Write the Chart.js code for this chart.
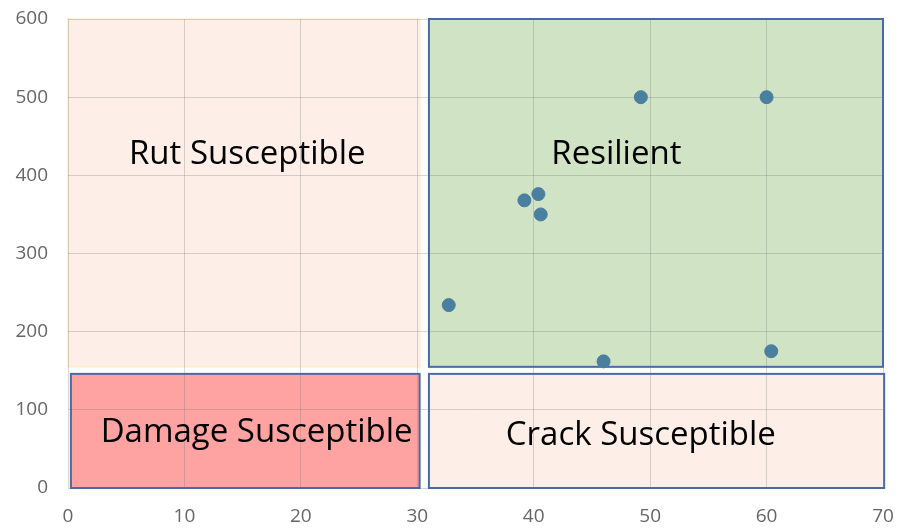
<!DOCTYPE html>
<html>
<head>
<meta charset="utf-8">
<script src="https://cdn.jsdelivr.net/npm/chart.js@4.4.0/dist/chart.umd.min.js"></script>
<style>
  body { margin: 0; background: #fff; }
  #wrap { width: 900px; height: 530px; }
</style>
</head>
<body>
<div id="wrap"><canvas id="canvas"></canvas></div>
<script>
// measured points
var xVals = [49.2, 60.0, 40.4, 39.2, 40.6, 32.7, 46.0, 60.4];
var yVals = [500, 500, 376, 368, 350, 234, 162, 175];

// zones: [xmin, xmax, ymin, ymax]
var zoneNames = ['Rut Susceptible', 'Resilient', 'Damage Susceptible', 'Crack Susceptible'];
var zoneBounds = [
    [0, 30.2, 155, 600],
    [31, 70, 155, 600],
    [0.25, 30.2, 0, 146],
    [31, 70.1, 0, 146]
];
var zoneFill = ['#FDEFE7', '#D1E3C5', '#FFA2A2', '#FDEFE7'];
var zoneBorder = ['#FFEEC6', '#4A6AA5', '#4A6AA5', '#4A6AA5'];
// label anchor per zone (data units)
var labelX = [15.4, 47.1, 16.2, 49.2];
var labelY = [427, 427, 71, 67];

var points = xVals.map(function (x, i) { return { x: x, y: yVals[i] }; });

function zonePx(chart, b) {
    var xs = chart.scales.x, ys = chart.scales.y;
    var l = xs.getPixelForValue(b[0]), r = xs.getPixelForValue(b[1]);
    var t = ys.getPixelForValue(b[3]), btm = ys.getPixelForValue(b[2]);
    return [l, t, r - l, btm - t];
}

var zonesPlugin = {
    id: 'zones',
    // boxes under the grid
    beforeDraw: function (chart) {
        var ctx = chart.ctx;
        ctx.save();
        zoneBounds.forEach(function (b, i) {
            var p = zonePx(chart, b);
            ctx.fillStyle = zoneFill[i];
            ctx.fillRect(p[0], p[1], p[2], p[3]);
            if (i == 0) {
                ctx.strokeStyle = zoneBorder[i];
                ctx.lineWidth = 1.5;
                ctx.strokeRect(p[0], p[1], p[2], p[3]);
            }
        });
        ctx.restore();
    },
    beforeDatasetsDraw: function (chart) {
        var ctx = chart.ctx;
        var xs = chart.scales.x, ys = chart.scales.y;
        ctx.save();
        zoneBounds.forEach(function (b, i) {
            if (i == 0) return;
            var p = zonePx(chart, b);
            ctx.strokeStyle = zoneBorder[i];
            ctx.lineWidth = 2;
            ctx.strokeRect(p[0], p[1], p[2], p[3]);
        });
        ctx.fillStyle = '#000';
        ctx.font = '33px "Open Sans"';
        ctx.textAlign = 'center';
        ctx.textBaseline = 'middle';
        zoneNames.forEach(function (name, i) {
            ctx.fillText(name, xs.getPixelForValue(labelX[i]), ys.getPixelForValue(labelY[i]));
        });
        ctx.restore();
    }
};

var ctx = document.getElementById('canvas');
var myChart = new Chart(ctx, {
    type: 'scatter',
    data: {
        datasets: [{
            label: 'points',
            data: points,
            backgroundColor: '#4A7FA0',
            borderColor: '#4A7FA0',
            pointRadius: 6.5
        }]
    },
    options: {
        responsive: true,
        maintainAspectRatio: false,
        animation: false,
        layout: { padding: { top: 19, right: 17, left: 0, bottom: 0 } },
        plugins: { legend: { display: false }, tooltip: { enabled: false } },
        scales: {
            x: {
                min: 0, max: 70,
                ticks: { stepSize: 10, color: '#666666', font: { size: 19, family: 'Open Sans' }, padding: 17 },
                grid: { color: 'rgba(110,110,110,0.27)', drawTicks: false },
                border: { display: false },
                afterFit: function (s) { s.height = 42; s.paddingLeft = 0; s.paddingRight = 0; }
            },
            y: {
                min: 0, max: 600,
                ticks: { stepSize: 100, color: '#666666', font: { size: 19, family: 'Open Sans' }, padding: 20 },
                grid: { color: 'rgba(110,110,110,0.27)', drawTicks: false },
                border: { display: false },
                afterFit: function (s) { s.width = 68; s.paddingTop = 0; s.paddingBottom = 0; }
            }
        }
    },
    plugins: [zonesPlugin]
});
</script>
</body>
</html>
